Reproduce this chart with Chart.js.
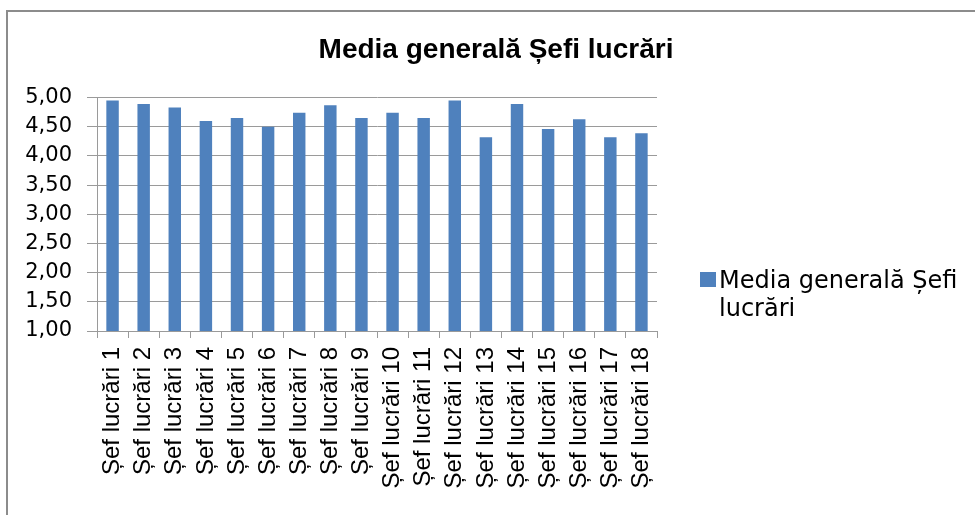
<!DOCTYPE html>
<html>
<head>
<meta charset="utf-8">
<title>Media generală Șefi lucrări</title>
<script src="https://cdn.jsdelivr.net/npm/chart.js@4.4.1/dist/chart.umd.min.js"></script>
<style>
  body { margin: 0; background: #fff; overflow: hidden; }
  #box { width: 975px; height: 515px; }
</style>
</head>
<body>
<div id="box"><canvas id="mediaChart"></canvas></div>
<script>
// dati del grafico
var categorii = [
  "Șef lucrări 1", "Șef lucrări 2", "Șef lucrări 3", "Șef lucrări 4",
  "Șef lucrări 5", "Șef lucrări 6", "Șef lucrări 7", "Șef lucrări 8",
  "Șef lucrări 9", "Șef lucrări 10", "Șef lucrări 11", "Șef lucrări 12",
  "Șef lucrări 13", "Șef lucrări 14", "Șef lucrări 15", "Șef lucrări 16",
  "Șef lucrări 17", "Șef lucrări 18"
];
var medie = [4.95, 4.89, 4.83, 4.60, 4.65, 4.50, 4.74, 4.87, 4.65,
             4.74, 4.65, 4.95, 4.32, 4.89, 4.46, 4.63, 4.32, 4.39];
var titolo = "Media generală Șefi lucrări";
var serie = "Media generală Șefi lucrări";
var yMin = 1;
var yMax = 5;
var yStep = 0.5;

var blu = "#4f81bd";
var grigio = "#9a9a9a";

// cornice grigia (solo lato sinistro e alto, il resto esce dall'immagine)
var framePlugin = {
  id: "frame",
  beforeDraw: function(chart) {
    var ctx = chart.ctx;
    ctx.save();
    ctx.fillStyle = "#fff";
    ctx.fillRect(0, 0, chart.width, chart.height);
    ctx.strokeStyle = "#8c8c8c";
    ctx.lineWidth = 2;
    ctx.beginPath();
    ctx.moveTo(7, chart.height);
    ctx.lineTo(7, 11);
    ctx.lineTo(chart.width, 11);
    ctx.stroke();
    ctx.restore();
  }
};

// legenda a destra, testo su due righe
var legendPlugin = {
  id: "legendaDestra",
  afterDraw: function(chart) {
    var ctx = chart.ctx;
    var ds = chart.data.datasets[0];
    var x = chart.chartArea.right + 43;
    var y = 272;
    ctx.save();
    ctx.fillStyle = ds.backgroundColor;
    ctx.fillRect(x, y, 16, 15);
    ctx.font = "24px 'DejaVu Sans'";
    ctx.fillStyle = "#000";
    ctx.textBaseline = "alphabetic";
    var righe = wrapText(ctx, ds.label, 250);
    for (var i = 0; i < righe.length; i++) {
      ctx.fillText(righe[i], x + 19, y + 16 + i * 28);
    }
    ctx.restore();
  }
};

function wrapText(ctx, testo, maxW) {
  var parole = testo.split(" ");
  var righe = [];
  var riga = "";
  parole.forEach(function(p) {
    var prova = riga ? riga + " " + p : p;
    if (riga && ctx.measureText(prova).width > maxW) {
      righe.push(riga);
      riga = p;
    } else {
      riga = prova;
    }
  });
  righe.push(riga);
  return righe;
}

function printChart() {
  var ctx = document.getElementById("mediaChart").getContext("2d");
  var chart = new Chart(ctx, {
    type: "bar",
    data: {
      labels: categorii,
      datasets: [{
        label: serie,
        data: medie,
        backgroundColor: blu,
        borderWidth: 0,
        barPercentage: 0.4,
        categoryPercentage: 1
      }]
    },
    options: {
      responsive: true,
      maintainAspectRatio: false,
      animation: false,
      layout: { padding: { left: 17, right: 0, top: 0, bottom: 0 } },
      plugins: {
        legend: { display: false },
        tooltip: { enabled: false },
        title: {
          display: true,
          text: titolo,
          color: "#000",
          font: { family: "'Liberation Sans'", size: 28, weight: "bold" },
          padding: { top: 33, bottom: 31 }
        }
      },
      scales: {
        x: {
          grid: {
            display: true,
            drawOnChartArea: false,
            drawTicks: true,
            tickLength: 7,
            color: grigio,
            offset: true
          },
          border: { display: true, color: grigio, width: 1 },
          ticks: {
            autoSkip: false,
            minRotation: 90,
            maxRotation: 90,
            padding: 9,
            color: "#000",
            font: { family: "'Liberation Sans'", size: 24 }
          },
          afterFit: function(scale) {
            scale.height = 184;
          }
        },
        y: {
          min: yMin,
          max: yMax,
          grid: {
            color: grigio,
            tickLength: 10,
            drawTicks: true
          },
          border: { display: true, color: grigio, width: 1 },
          ticks: {
            stepSize: yStep,
            padding: 15,
            color: "#000",
            font: { family: "'DejaVu Sans'", size: 21 },
            callback: function(v) {
              return v.toFixed(2).replace(".", ",");
            }
          },
          afterFit: function(scale) {
            scale.width = 80;
          }
        },
        // spazio riservato per la legenda a destra
        spazioLegenda: {
          axis: "y",
          type: "linear",
          position: "right",
          display: true,
          grid: { display: false },
          border: { display: false },
          ticks: { display: false },
          afterFit: function(scale) {
            scale.width = 318;
          }
        }
      }
    },
    plugins: [framePlugin, legendPlugin]
  });
}

init();

function init() {
  printChart();
}
</script>
</body>
</html>
